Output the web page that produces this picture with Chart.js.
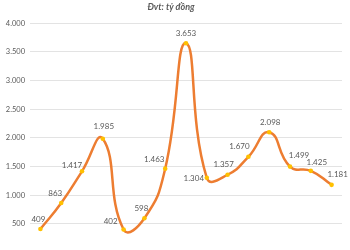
<!DOCTYPE html>
<html><head><meta charset="utf-8">
<script src="https://cdn.jsdelivr.net/npm/chart.js@4/dist/chart.umd.min.js"></script>
<style>html,body{margin:0;padding:0;overflow:hidden;background:#fff}#w{width:350px;height:262px}</style>
</head><body><div id="w"><canvas id="c"></canvas></div>
<script>
const categories = ['1','2','3','4','5','6','7','8','9','10','11','12','13','14','15'];
const values = [409, 863, 1417, 1985, 402, 598, 1463, 3653, 1304, 1357, 1670, 2098, 1499, 1425, 1181];
const yTicks = [500, 1000, 1500, 2000, 2500, 3000, 3500, 4000];
const unitLabel = 'Đvt: tỷ đồng';

const fmt = v => String(v).replace(/\B(?=(\d{3})+(?!\d))/g, '.');
// label placement per point: [dx, dy]
const labelOffsets = [[-2,-10],[-6,-10],[-10,-6],[1,-12],[-13,-8],[-3,-10],[-11,-9],[0,-10],[-13,1],[-4,-10],[-9,-10],[1,-10],[9,-11],[6,-8],[6,-10]];

const labelPlugin = {
  id: 'dl',
  afterDatasetsDraw(chart) {
    const ctx = chart.ctx;
    const meta = chart.getDatasetMeta(0);
    ctx.save();
    ctx.font = '8px Lato';
    ctx.fillStyle = '#595959';
    ctx.textAlign = 'center';
    ctx.textBaseline = 'middle';
    meta.data.forEach((pt, i) => {
      const o = labelOffsets[i];
      ctx.fillText(fmt(values[i]), pt.x + o[0], pt.y + o[1]);
    });
    ctx.restore();
  }
};

new Chart(document.getElementById('c'), {
  type: 'line',
  data: {
    labels: categories,
    datasets: [{
      data: values,
      borderColor: '#ED7D31',
      borderWidth: 2.5,
      tension: 0.5,
      pointRadius: 2.3,
      pointBackgroundColor: '#FFC000',
      pointBorderColor: '#FFC000',
      pointBorderWidth: 0
    }]
  },
  options: {
    responsive: true,
    maintainAspectRatio: false,
    animation: false,
    layout: { padding: { left: 0, right: 8, top: 0, bottom: 1 } },
    plugins: {
      legend: { display: false },
      tooltip: { enabled: false },
      title: {
        display: true,
        text: unitLabel,
        color: '#595959',
        font: { family: 'Lato', size: 9, style: 'italic' },
        padding: { top: 2, bottom: 10.5 }
      }
    },
    scales: {
      x: { display: false, offset: true, grid: { display: false } },
      y: {
        min: 0, max: 4000,
        afterBuildTicks(s) { s.ticks = yTicks.map(v => ({ value: v })); },
        afterFit(s) { s.width = 30; },
        border: { display: false },
        grid: { color: '#E3E3E3', lineWidth: 1, drawTicks: false },
        ticks: {
          color: '#595959',
          font: { family: 'Lato', size: 7.5 },
          padding: 5,
          callback: v => fmt(v)
        }
      }
    }
  },
  plugins: [labelPlugin]
});
</script></body></html>
